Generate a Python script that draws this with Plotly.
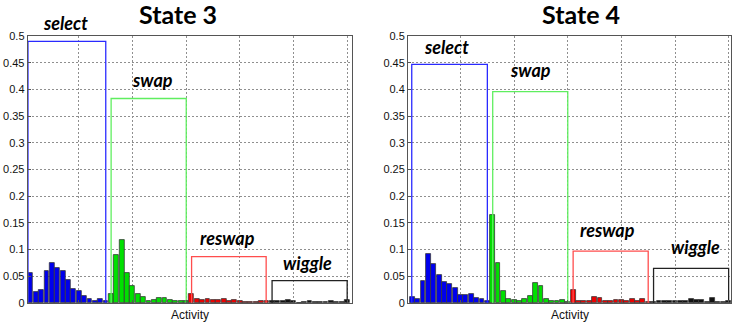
import plotly.graph_objects as go

W, H = 737, 323

# ---------------- data ----------------
bar_x = list(range(1, 61))
group_names = ["select", "swap", "reswap", "wiggle"]
group_colors = ["#0000ee", "#00e000", "#ee0000", "#111111"]
box_colors = ["#2a2aff", "#5fee5f", "#ff4d4d", "#222222"]

s3_select = [0.056, 0.021, 0.024, 0.059, 0.074, 0.066, 0.059, 0.043, 0.026, 0.022, 0.014, 0.0075, 0.003, 0.008, 0.003]
s3_swap = [0.017, 0.090, 0.118, 0.056, 0.031, 0.016, 0.011, 0.004, 0.006, 0.009, 0.009, 0.005, 0.003, 0.003, 0.003]
s3_reswap = [0.016, 0.008, 0.0056, 0.008, 0.006, 0.0056, 0.0075, 0.0044, 0.006, 0.004, 0.0025, 0.002, 0.002, 0.003, 0.004]
s3_wiggle = [0.003, 0.003, 0.004, 0.006, 0.003, 0.0006, 0.0025, 0.003, 0.0025, 0.0025, 0.002, 0.004, 0.002, 0.002, 0.006]

s4_select = [0.011, 0.007, 0.042, 0.091, 0.073, 0.052, 0.039, 0.036, 0.029, 0.015, 0.015, 0.017, 0.009, 0.008, 0.003]
s4_swap = [0.165, 0.075, 0.023, 0.0075, 0.0056, 0.004, 0.008, 0.014, 0.038, 0.032, 0.0075, 0.003, 0.003, 0.005, 0.0025]
s4_reswap = [0.025, 0.004, 0.004, 0.003, 0.011, 0.010, 0.003, 0.003, 0.006, 0.005, 0.003, 0.007, 0.004, 0.008, 0.002]
s4_wiggle = [0.002, 0.004, 0.004, 0.004, 0.004, 0.003, 0.003, 0.007, 0.006, 0.005, 0.002, 0.009, 0.002, 0.002, 0.004]

# group summary boxes: left edge, right edge, height
s3_box_left = [0.5, 16.0, 31.0, 46.0]
s3_box_right = [15.0, 30.0, 44.9, 60.0]
s3_box_height = [0.490, 0.383, 0.087, 0.042]

s4_box_left = [0.9, 16.0, 31.0, 46.0]
s4_box_right = [15.0, 30.0, 45.0, 60.0]
s4_box_height = [0.447, 0.396, 0.097, 0.065]

y_ticks = [0, 0.05, 0.1, 0.15, 0.2, 0.25, 0.3, 0.35, 0.4, 0.45, 0.5]
y_tick_text = ["0", "0.05", "0.1", "0.15", "0.2", "0.25", "0.3", "0.35", "0.4", "0.45", "0.5"]
x_grid = [10, 20, 30, 40, 50, 60]

panels = [
    dict(title="State 3", groups=[s3_select, s3_swap, s3_reswap, s3_wiggle],
         bl=s3_box_left, br=s3_box_right, bh=s3_box_height),
    dict(title="State 4", groups=[s4_select, s4_swap, s4_reswap, s4_wiggle],
         bl=s4_box_left, br=s4_box_right, bh=s4_box_height),
]

# ---------------- layout (pixels) ----------------
def px(x):
    return x / W

def py(y):
    return 1 - y / H

x_domains = [[px(27.7), px(352)], [px(408), px(731.3)]]
y_domain = [py(303), py(36)]
x_ranges = [[0.45, 60.9], [0.2, 60.5]]

title_pos = [(178, 14), (581, 14)]
label_pos = [
    [(65, 23), (152, 80), (228, 238), (307, 263)],
    [(446, 47), (530, 70), (607, 230), (695, 247)],
]

fig = go.Figure()

for i, p in enumerate(panels):
    xa = "x" if i == 0 else "x2"
    ya = "y" if i == 0 else "y2"
    for g, vals in enumerate(p["groups"]):
        fig.add_trace(go.Bar(
            x=bar_x[g * 15:(g + 1) * 15], y=vals,
            width=0.9,
            marker=dict(color=group_colors[g], line=dict(color="#3a3a3a", width=0.8)),
            xaxis=xa, yaxis=ya, showlegend=False,
        ))
    for g in range(4):
        l, r, h = p["bl"][g], p["br"][g], p["bh"][g]
        fig.add_trace(go.Scatter(
            x=[l, l, r, r], y=[0, h, h, 0], mode="lines",
            line=dict(color=box_colors[g], width=1.3),
            xaxis=xa, yaxis=ya, showlegend=False, cliponaxis=False,
        ))

axis_common = dict(showline=True, linecolor="#555555", linewidth=1, mirror=True,
                   showgrid=True, gridcolor="#8f8f8f", griddash="2px,2px", gridwidth=1,
                   zeroline=False, ticks="inside", ticklen=3, tickcolor="#555555",
                   automargin=False)

for i in range(2):
    sfx = "" if i == 0 else "2"
    fig.update_layout(**{
        "xaxis" + sfx: dict(domain=x_domains[i], range=x_ranges[i], tickvals=x_grid,
                            showticklabels=False, anchor="y" + sfx, **axis_common),
        "yaxis" + sfx: dict(domain=y_domain, range=[0, 0.5], tickvals=y_ticks,
                            ticktext=y_tick_text, anchor="x" + sfx,
                            tickfont=dict(family="Liberation Sans, Arial", size=11, color="#111"),
                            **axis_common),
    })

annotations = []
for i, p in enumerate(panels):
    tx, ty = title_pos[i]
    annotations.append(dict(x=px(tx), y=py(ty), xref="paper", yref="paper",
                            text="<b>" + p["title"] + "</b>", showarrow=False,
                            font=dict(family="Lato, Open Sans", size=25, color="#000"),
                            xanchor="center", yanchor="middle"))
    for g, name in enumerate(group_names):
        lx, ly = label_pos[i][g]
        annotations.append(dict(x=px(lx), y=py(ly), xref="paper", yref="paper",
                                text="<b><i>" + name + "</i></b>", showarrow=False,
                                font=dict(family="Lato, Open Sans", size=18, color="#000"),
                                xanchor="center", yanchor="middle"))
    cx = (x_domains[i][0] + x_domains[i][1]) / 2
    annotations.append(dict(x=cx, y=py(315), xref="paper", yref="paper",
                            text="Activity", showarrow=False,
                            font=dict(family="Liberation Sans, Arial", size=12, color="#111"),
                            xanchor="center", yanchor="middle"))

fig.update_layout(
    width=W, height=H,
    margin=dict(l=0, r=0, t=0, b=0),
    paper_bgcolor="white", plot_bgcolor="white",
    barmode="overlay", bargap=0,
    annotations=annotations,
)

fig.write_html("out.html",
               config={"displayModeBar": False},
               post_script="document.body.style.margin='0';document.body.style.overflow='hidden';")
